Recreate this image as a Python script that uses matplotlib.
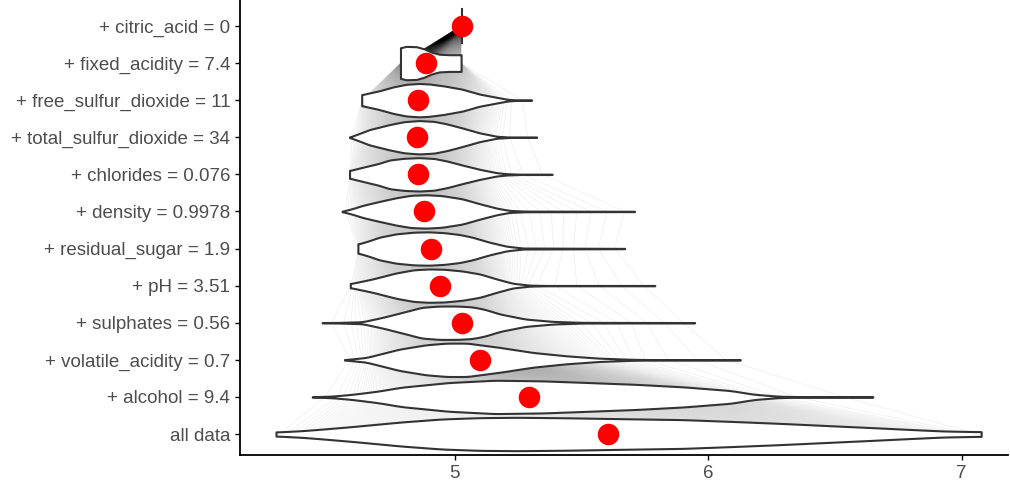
import numpy as np
import matplotlib
matplotlib.use("Agg")
import matplotlib.pyplot as plt
from matplotlib.collections import LineCollection

# break-down levels, bottom to top
LABELS = ["all data", "+ alcohol = 9.4", "+ volatile_acidity = 0.7",
          "+ sulphates = 0.56", "+ pH = 3.51", "+ residual_sugar = 1.9",
          "+ density = 0.9978", "+ chlorides = 0.076",
          "+ total_sulfur_dioxide = 34", "+ free_sulfur_dioxide = 11",
          "+ fixed_acidity = 7.4", "+ citric_acid = 0"]
MEANS = [5.607, 5.292, 5.099, 5.028, 4.941, 4.909, 4.878, 4.858, 4.854,
         4.858, 4.886, 5.028]

# violin profiles: prediction value, relative half-width
ALL_X = [4.296, 4.40, 4.50, 4.60, 4.79, 4.95, 5.10, 5.25, 5.45, 5.65, 5.905,
         6.10, 6.28, 6.45, 6.65, 6.80, 6.93, 7.077]
ALL_W = [.12, .2, .32, .45, .72, .9, .98, 1.0, .97, .92, .86, .75, .64, .52,
         .38, .27, .18, .14]
ALC_X = [4.439, 4.52, 4.60, 4.70, 4.79, 4.977, 5.16, 5.35, 5.53, 5.72, 5.905,
         6.09, 6.18, 6.28, 6.40, 6.65]
ALC_W = [.01, .05, .16, .35, .58, .86, 1.0, .96, .86, .75, .6, .38, .16, .04,
         .01, .01]
VOL_X = [4.566, 4.652, 4.72, 4.783, 4.888, 4.97, 5.05, 5.18, 5.31, 5.44, 5.57,
         5.70, 5.80, 6.127]
VOL_W = [.01, .14, .4, .64, .9, 1.0, 1.0, .74, .44, .24, .1, .03, .01, .01]
SUL_X = [4.478, 4.55, 4.637, 4.716, 4.81, 4.87, 4.94, 5.01, 5.07, 5.12, 5.18,
         5.28, 5.387, 5.506, 5.947]
SUL_W = [.01, .02, .06, .32, .68, .92, 1.0, 1.0, .95, .8, .52, .22, .08, .02,
         .01]
PH_X = [4.589, 4.63, 4.677, 4.77, 4.84, 4.90, 4.96, 5.03, 5.10, 5.166, 5.23,
        5.297, 5.36, 5.79]
PH_W = [.12, .25, .4, .76, .95, 1.0, .98, .88, .7, .4, .14, .03, .01, .01]
RS_X = [4.619, 4.66, 4.704, 4.77, 4.84, 4.90, 4.96, 5.02, 5.07, 5.138, 5.205,
        5.27, 5.671]
RS_W = [.27, .45, .68, .88, .98, 1.0, .95, .84, .68, .38, .14, .03, .01]
DEN_X = [4.557, 4.60, 4.637, 4.704, 4.77, 4.83, 4.89, 4.95, 5.03, 5.10, 5.166,
         5.217, 5.28, 5.71]
DEN_W = [.01, .18, .36, .6, .82, .97, 1.0, .95, .76, .46, .2, .06, .02, .01]
CHL_X = [4.586, 4.637, 4.70, 4.744, 4.80, 4.86, 4.92, 4.97, 5.03, 5.10, 5.166,
         5.205, 5.26, 5.385]
CHL_W = [.23, .42, .65, .86, .96, 1.0, .95, .8, .56, .3, .1, .04, .01, .01]
TSD_X = [4.586, 4.62, 4.665, 4.744, 4.80, 4.86, 4.92, 4.97, 5.03, 5.10, 5.166,
         5.22, 5.324]
TSD_W = [.01, .2, .46, .76, .93, 1.0, .95, .8, .56, .26, .06, .01, .01]
FSD_X = [4.634, 4.70, 4.76, 4.81, 4.86, 4.90, 4.96, 5.03, 5.10, 5.17, 5.21,
         5.25, 5.304]
FSD_W = [.33, .55, .8, .95, 1.0, .97, .85, .66, .36, .16, .05, .01, .01]
FIX_X = [4.787, 4.81, 4.85, 4.88, 4.91, 4.94, 4.98, 5.026]
FIX_W = [.92, 1.0, .98, .85, .65, .53, .5, .5]
CIT_X = [5.028]
CIT_W = [1.0]

PROFILES = [(ALL_X, ALL_W), (ALC_X, ALC_W), (VOL_X, VOL_W), (SUL_X, SUL_W),
            (PH_X, PH_W), (RS_X, RS_W), (DEN_X, DEN_W), (CHL_X, CHL_W),
            (TSD_X, TSD_W), (FSD_X, FSD_W), (FIX_X, FIX_W), (CIT_X, CIT_W)]

HALF = 0.45
N_PATHS = 500
TEXT = "#4D4D4D"
EDGE = "#333333"


def smooth_profile(xs, ws, n=300, win=7):
    xg = np.linspace(xs[0], xs[-1], n)
    wg = np.interp(xg, xs, ws)
    if win > 1:
        pad = np.pad(wg, win // 2, mode="edge")
        wg = np.convolve(pad, np.ones(win) / win, mode="valid")
    return xg, wg


def quantiles(xs, ws):
    if len(xs) == 1:
        return np.full(N_PATHS, xs[0])
    xg, wg = smooth_profile(xs, ws, n=1000, win=1)
    cdf = np.concatenate([[0], np.cumsum((wg[1:] + wg[:-1]) / 2 * np.diff(xg))])
    cdf /= cdf[-1]
    p = (np.arange(N_PATHS) + 0.5) / N_PATHS
    return np.interp(p, cdf, xg)


plt.rcParams["font.family"] = ["Liberation Sans", "DejaVu Sans"]
fig = plt.figure(figsize=(10.1, 4.82), dpi=100)
ax = fig.add_axes([240 / 1010, 1 - 455 / 482, 768 / 1010, 455 / 482])

ys = np.arange(len(LABELS))
qs = [quantiles(px, pw) for px, pw in PROFILES]
segs = []
for k in range(len(qs) - 1):
    for a, b in zip(qs[k], qs[k + 1]):
        segs.append([(a, ys[k]), (b, ys[k + 1])])
ax.add_collection(LineCollection(segs, colors="black", alpha=0.05,
                                 linewidths=0.7, zorder=1))

for y, (px, pw) in zip(ys, PROFILES):
    if len(px) == 1:
        ax.plot([px[0], px[0]], [y - HALF, y + HALF], color=EDGE, lw=1.5,
                zorder=2)
        continue
    xg, wg = smooth_profile(px, pw)
    ax.fill_between(xg, y - wg * HALF, y + wg * HALF, facecolor="white",
                    edgecolor=EDGE, linewidth=1.5, zorder=2)

ax.scatter(MEANS, ys, s=240, color="#FF0000", zorder=3, linewidths=0)

ax.set_xlim(4.154, 7.183)
ax.set_ylim(-0.566, 11.7)
ax.set_yticks(ys)
ax.set_yticklabels(LABELS)
ax.set_xticks([5, 6, 7])
ax.set_xticklabels(["5", "6", "7"])
ax.tick_params(axis="both", colors="black", labelcolor=TEXT, labelsize=13.5,
               length=3.5, width=1)
for side in ("top", "right"):
    ax.spines[side].set_visible(False)
for side in ("left", "bottom"):
    ax.spines[side].set_linewidth(1.3)

fig.savefig("out.png", dpi=100)
